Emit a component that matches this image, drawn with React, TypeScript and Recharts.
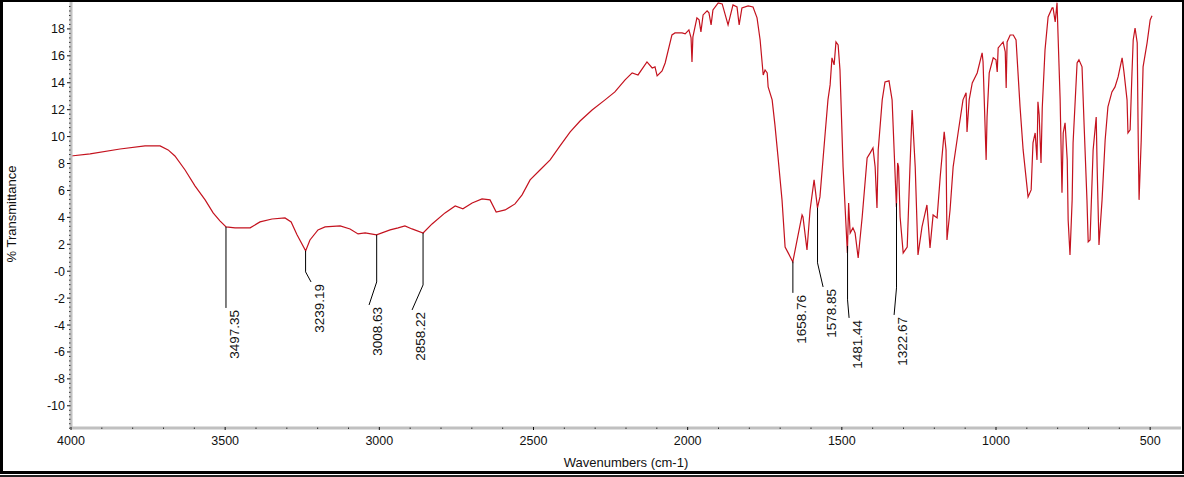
import React from 'react';
import { LineChart, Line, XAxis, YAxis, ReferenceLine, ReferenceDot } from 'recharts';

// ---------- data ----------
const wavenumbers = [
  4000, 3938, 3841, 3760, 3711, 3685, 3663, 3630, 3598, 3565, 3539, 3517, 3497, 3468, 3419, 3387, 3348, 3306, 3286, 3267,
  3239, 3225, 3199, 3176, 3127, 3095, 3069, 3046, 3009, 2965, 2939, 2917, 2894, 2858, 2829, 2787, 2754, 2729, 2699, 2667,
  2641, 2621, 2592, 2560, 2537, 2511, 2479, 2446, 2414, 2381, 2349, 2310, 2268, 2236, 2203, 2180, 2161, 2132, 2115, 2106,
  2099, 2083, 2073, 2051, 2041, 2018, 2008, 1996, 1989, 1986, 1983, 1970, 1963, 1957, 1950, 1937, 1931, 1924, 1918, 1901,
  1888, 1869, 1853, 1840, 1833, 1824, 1804, 1788, 1775, 1765, 1755, 1749, 1742, 1739, 1726, 1717, 1707, 1694, 1684, 1674,
  1659, 1645, 1629, 1626, 1613, 1603, 1590, 1579, 1571, 1554, 1545, 1538, 1532, 1528, 1525, 1519, 1512, 1506, 1496, 1482,
  1478, 1473, 1464, 1457, 1447, 1434, 1418, 1408, 1399, 1392, 1386, 1382, 1369, 1360, 1347, 1337, 1323, 1319, 1316, 1311,
  1301, 1288, 1279, 1272, 1262, 1253, 1240, 1224, 1214, 1204, 1191, 1181, 1168, 1162, 1159, 1149, 1139, 1123, 1107, 1097,
  1094, 1087, 1077, 1061, 1045, 1042, 1032, 1029, 1022, 1009, 1000, 996, 993, 977, 970, 967, 964, 954, 944, 935,
  922, 912, 896, 886, 880, 873, 867, 864, 860, 854, 850, 841, 831, 818, 815, 808, 802, 799, 792, 786,
  782, 776, 769, 766, 760, 753, 750, 737, 731, 721, 714, 705, 701, 695, 685, 675, 672, 666, 656, 646,
  637, 624, 614, 604, 591, 585, 575, 572, 565, 559, 555, 549, 542, 539, 536, 529, 523, 510, 500, 494,
];
const transmittance = [
  8.56, 8.71, 9.08, 9.31, 9.31, 9.01, 8.56, 7.52, 6.34, 5.30, 4.33, 3.74, 3.29, 3.22, 3.22, 3.66, 3.88, 3.96, 3.66, 2.70,
  1.51, 2.32, 3.07, 3.29, 3.36, 3.14, 2.77, 2.84, 2.70, 3.07, 3.22, 3.36, 3.14, 2.84, 3.51, 4.33, 4.85, 4.63, 5.07, 5.37,
  5.30, 4.40, 4.55, 5.00, 5.67, 6.78, 7.52, 8.27, 9.31, 10.35, 11.16, 11.98, 12.73, 13.32, 14.21, 14.73, 14.58, 15.55, 15.10, 15.18,
  14.51, 14.88, 15.47, 17.55, 17.70, 17.70, 17.63, 17.93, 17.33, 15.55, 17.41, 18.82, 18.67, 17.78, 19.04, 19.34, 19.19, 18.30, 19.41, 19.93,
  19.86, 18.30, 19.78, 19.63, 18.30, 19.56, 19.71, 19.63, 18.82, 17.18, 14.58, 14.95, 14.73, 13.69, 12.73, 10.87, 8.49, 5.30, 1.80, 1.36,
  0.69, 2.32, 4.18, 4.03, 1.58, 4.55, 6.78, 4.70, 5.52, 10.27, 12.73, 13.84, 15.85, 15.55, 15.33, 17.03, 16.81, 14.95, 7.75, 1.36,
  5.07, 2.84, 3.22, 2.84, 0.99, 4.03, 8.42, 8.79, 9.16, 7.75, 4.70, 9.01, 12.73, 14.06, 14.14, 12.73, 4.78, 8.04, 7.75, 4.03,
  1.36, 1.80, 7.75, 11.98, 7.75, 1.21, 3.29, 4.92, 1.73, 4.18, 3.96, 7.00, 10.35, 9.01, 2.32, 4.55, 7.75, 10.27, 12.73, 13.25,
  10.35, 12.73, 13.99, 14.73, 16.22, 15.55, 8.27, 11.46, 14.73, 15.85, 15.70, 14.81, 16.59, 17.03, 16.29, 13.62, 17.03, 17.55, 17.55, 17.18,
  12.21, 9.01, 5.52, 6.04, 9.53, 10.27, 8.27, 12.58, 11.61, 8.04, 12.13, 16.44, 18.89, 19.56, 19.56, 18.52, 19.95, 17.70, 12.73, 5.82,
  10.27, 11.02, 8.27, 3.81, 1.21, 5.30, 9.53, 15.47, 15.70, 15.18, 10.72, 5.30, 2.18, 2.32, 9.01, 11.46, 7.75, 1.95, 5.30, 9.75,
  12.21, 13.32, 13.69, 14.43, 15.85, 14.81, 12.73, 10.27, 10.50, 14.73, 17.18, 18.07, 16.96, 10.27, 5.30, 9.75, 15.18, 16.96, 18.67, 18.97,
];

const xTickLabels = [4000, 3500, 3000, 2500, 2000, 1500, 1000, 500];
const yTickLabels = [18, 16, 14, 12, 10, 8, 6, 4, 2, 0, -2, -4, -6, -8, -10];

const peakWavenumbers = [3497.35, 3239.19, 3008.63, 2858.22, 1658.76, 1578.85, 1481.44, 1322.67];
const peakLabels = ['3497.35', '3239.19', '3008.63', '2858.22', '1658.76', '1578.85', '1481.44', '1322.67'];
// leader-line layout (in axis units): knee level, end level, end wavenumber
const leaderKnee = [-2.73, -0.05, -0.8, -1.02, -1.61, 0.62, -2.13, -1.24];
const leaderEnd = [-2.73, -0.8, -2.51, -2.88, -1.61, -1.17, -3.47, -3.25];
const leaderEndWn = [3497.35, 3221.5, 3033.4, 2893.9, 1658.76, 1560.8, 1476.5, 1330.5];

// ---------- build ----------
const data = wavenumbers.map((wn, i) => ({ wn, t: transmittance[i] }));

const curveAt = (w: number) => {
  for (let i = 0; i < wavenumbers.length - 1; i++) {
    const a = wavenumbers[i];
    const b = wavenumbers[i + 1];
    if (w <= a && w >= b) {
      const f = a === b ? 0 : (a - w) / (a - b);
      return transmittance[i] + f * (transmittance[i + 1] - transmittance[i]);
    }
  }
  return transmittance[transmittance.length - 1];
};

const xTicks: number[] = [];
for (let v = 4000; v >= 500; v -= 100) xTicks.push(v);
const yTicks: number[] = [];
for (let k = 59; k >= -35; k--) yTicks.push(k / 3);

const FONT = '"Liberation Sans", Arial, Helvetica, sans-serif';
const CURVE = '#C4121E';
const AXIS = '#C0C0C0';

const XTick = (props: any) => {
  const { x, y, payload } = props;
  const v = Math.round(payload.value);
  const major = xTickLabels.includes(v);
  return (
    <g>
      {major ? (
        <line x1={x} x2={x} y1={y - 1} y2={y + 2} stroke="#111" strokeWidth={1} />
      ) : (
        <line x1={x} x2={x} y1={y - 0.5} y2={y + 1} stroke="#333" strokeWidth={1} />
      )}
      {major && (
        <text x={x} y={y + 17} textAnchor="middle" fontSize={12.5} fill="#111" fontFamily={FONT}>
          {v}
        </text>
      )}
    </g>
  );
};

const YTick = (props: any) => {
  const { x, y, payload } = props;
  const v = payload.value;
  const r = Math.round(v);
  const major = Math.abs(v - r) < 1e-6 && yTickLabels.includes(r);
  if (!major) {
    return <line x1={x - 2} x2={x - 0.5} y1={y} y2={y} stroke="#333" strokeWidth={1} />;
  }
  return (
    <g>
      <line x1={x - 4} x2={x - 0.5} y1={y} y2={y} stroke="#111" strokeWidth={1} />
      <text x={x - 6} y={y + 4.5} textAnchor="end" fontSize={12.5} fill="#111" fontFamily={FONT}>
        {r === 0 ? '-0' : String(r)}
      </text>
    </g>
  );
};

const makeLabelShape = (text: string) => (p: any) => {
  const bx = p.cx + 13;
  const by = p.cy + 2;
  return (
    <text
      x={bx}
      y={by}
      textAnchor="end"
      fontSize={13.5}
      fill="#111"
      fontFamily={FONT}
      transform={`rotate(-90, ${bx}, ${by})`}
    >
      {text}
    </text>
  );
};

export default function App() {
  return (
    <div style={{ position: 'absolute', left: 0, top: 0, width: 1184, height: 477, background: '#fff' }}>
      <LineChart width={1184} height={477} data={data} margin={{ top: 2, right: 3, bottom: 0, left: 0 }}>
        <XAxis
          type="number"
          dataKey="wn"
          domain={[400, 4000]}
          reversed
          allowDataOverflow
          ticks={xTicks}
          interval={0}
          tick={(p: any) => <XTick {...p} />}
          tickLine={false}
          tickSize={0}
          tickMargin={0}
          axisLine={{ stroke: AXIS, strokeWidth: 3 }}
          height={49}
        />
        <YAxis
          type="number"
          domain={[-11.65, 20]}
          allowDataOverflow
          ticks={yTicks}
          interval={0}
          tick={(p: any) => <YTick {...p} />}
          tickLine={false}
          tickSize={0}
          tickMargin={0}
          axisLine={{ stroke: AXIS, strokeWidth: 3 }}
          width={71}
        />
        <Line
          type="linear"
          dataKey="t"
          stroke={CURVE}
          strokeWidth={1.2}
          dot={false}
          activeDot={false}
          isAnimationActive={false}
        />
        {peakWavenumbers.map((w, i) => (
          <ReferenceLine
            key={`v${i}`}
            segment={[
              { x: w, y: curveAt(w) },
              { x: w, y: leaderKnee[i] },
            ]}
            stroke="#000"
            strokeWidth={1}
            ifOverflow="visible"
          />
        ))}
        {peakWavenumbers.map((w, i) => (
          <ReferenceLine
            key={`d${i}`}
            segment={[
              { x: w, y: leaderKnee[i] },
              { x: leaderEndWn[i], y: leaderEnd[i] },
            ]}
            stroke="#000"
            strokeWidth={1}
            ifOverflow="visible"
          />
        ))}
        {peakWavenumbers.map((w, i) => (
          <ReferenceDot
            key={`t${i}`}
            x={leaderEndWn[i]}
            y={leaderEnd[i]}
            r={0}
            ifOverflow="visible"
            shape={makeLabelShape(peakLabels[i])}
          />
        ))}
      </LineChart>
      <svg
        width={1184}
        height={477}
        style={{ position: 'absolute', left: 0, top: 0, pointerEvents: 'none' }}
      >
        <text
          x={16}
          y={214}
          textAnchor="middle"
          fontSize={13}
          fill="#111"
          fontFamily={FONT}
          transform="rotate(-90, 16, 214)"
        >
          % Transmittance
        </text>
        <text x={626} y={467} textAnchor="middle" fontSize={13} fill="#111" fontFamily={FONT}>
          Wavenumbers (cm-1)
        </text>
        <rect x={0} y={0} width={1184} height={2} fill="#000" />
        <rect x={0} y={0} width={3} height={474} fill="#000" />
        <rect x={1182} y={0} width={2} height={474} fill="#000" />
        <rect x={0} y={471} width={1184} height={3} fill="#000" />
        <rect x={0} y={475} width={1184} height={2} fill="#222" />
      </svg>
    </div>
  );
}
